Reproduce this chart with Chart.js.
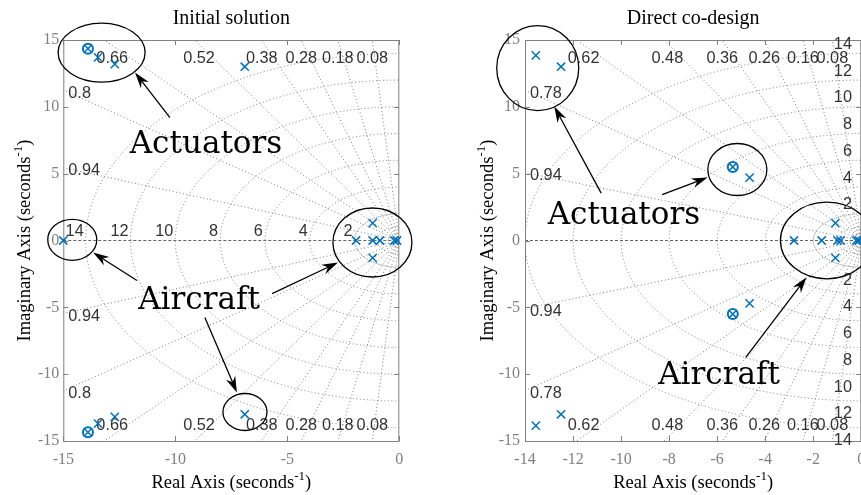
<!DOCTYPE html>
<html lang="en">
<head>
<meta charset="UTF-8">
<title>Pole-zero maps</title>
<script src="https://cdn.jsdelivr.net/npm/chart.js"></script>
<style>
  html, body { margin: 0; padding: 0; overflow: hidden; background: #fff; }
  body { position: relative; width: 861px; height: 495px; }
  canvas { position: absolute; top: 0; }
  #initMap { left: 0; }
  #codMap { left: 430px; }
</style>
</head>
<body>
<canvas id="initMap" width="430" height="495"></canvas>
<canvas id="codMap" width="480" height="495"></canvas>
<script>
// Initial solution: poles (x) and zeros (o)
const initPoleRe = [-13.9, -13.9, -13.45, -13.45, -12.7, -12.7, -6.9, -6.9, -15, -1.93, -1.19, -1.19, -1.19, -0.86, -0.22, -0.1];
const initPoleIm = [14.35, -14.35, 13.7, -13.7, 13.2, -13.2, 13.0, -13.0, 0, 0, 1.3, -1.3, 0, 0, 0, 0];
const initZeroRe = [-13.9, -13.9];
const initZeroIm = [14.35, -14.35];
const initZeta = [0.08, 0.18, 0.28, 0.38, 0.52, 0.66, 0.8, 0.94];
const initXTicks = [-15, -10, -5, 0];

// Direct co-design
const codPoleRe = [-13.55, -13.55, -12.5, -12.5, -5.35, -5.35, -4.65, -4.65, -2.8, -1.65, -1.08, -1.08, -0.99, -0.86, -0.2, -0.1];
const codPoleIm = [13.85, -13.85, 13.0, -13.0, 5.5, -5.5, 4.7, -4.7, 0, 0, 1.3, -1.3, 0, 0, 0, 0];
const codZeroRe = [-5.35, -5.35];
const codZeroIm = [5.5, -5.5];
const codZeta = [0.08, 0.16, 0.26, 0.36, 0.48, 0.62, 0.78, 0.94];
const codXTicks = [-14, -12, -10, -8, -6, -4, -2, 0];

const wnLabels = [2, 4, 6, 8, 10, 12, 14];
const wnInner = [0.5, 1];
const yTicks = [-15, -10, -5, 0, 5, 10, 15];

const BLUE = '#0072BD';
const SERIF = '"Liberation Serif", "Times New Roman", serif';
const SANS = '"Liberation Sans", Arial, sans-serif';

function toPts(re, im) {
  return re.map((v, i) => ({ x: v, y: im[i] }));
}

function drawArrow(ctx, x1, y1, x2, y2) {
  const a = Math.atan2(y2 - y1, x2 - x1), c = Math.cos(a), s = Math.sin(a);
  const L = 16, W = 5, N = 11;
  ctx.beginPath();
  ctx.moveTo(x1, y1);
  ctx.lineTo(x2 - N * c, y2 - N * s);
  ctx.stroke();
  ctx.beginPath();
  ctx.moveTo(x2, y2);
  ctx.lineTo(x2 - L * c + W * s, y2 - L * s - W * c);
  ctx.lineTo(x2 - N * c, y2 - N * s);
  ctx.lineTo(x2 - L * c - W * s, y2 - L * s + W * c);
  ctx.closePath();
  ctx.fill();
}

// text with a "-1" superscript, centred on cx
function unitText(ctx, main, cx, base) {
  ctx.font = '18.5px ' + SERIF;
  const w1 = ctx.measureText(main).width;
  ctx.font = '13px ' + SERIF;
  const w2 = ctx.measureText('-1').width;
  ctx.font = '18.5px ' + SERIF;
  const w3 = ctx.measureText(')').width;
  let x = cx - (w1 + w2 + w3) / 2;
  ctx.textAlign = 'left';
  ctx.fillText(main, x, base);
  ctx.font = '13px ' + SERIF;
  ctx.fillText('-1', x + w1, base - 8);
  ctx.font = '18.5px ' + SERIF;
  ctx.fillText(')', x + w1 + w2, base);
}

function sgrid(cfg) {
  return {
    id: 'sgrid',
    beforeDatasetsDraw(chart) {
      const { ctx, chartArea: a, scales: { x, y } } = chart;
      const ox = x.getPixelForValue(0), oy = y.getPixelForValue(0);
      const sx = x.getPixelForValue(1) - ox, sy = oy - y.getPixelForValue(1);
      ctx.save();
      ctx.beginPath();
      ctx.rect(a.left, a.top, a.right - a.left, a.bottom - a.top);
      ctx.clip();
      ctx.strokeStyle = '#7c7c7c';
      ctx.lineWidth = 1;
      ctx.setLineDash([1, 2.5]);
      cfg.zeta.forEach(z => {
        const w = Math.sqrt(1 - z * z);
        [1, -1].forEach(sg => {
          ctx.beginPath();
          ctx.moveTo(ox, oy);
          ctx.lineTo(x.getPixelForValue(-z * 60), y.getPixelForValue(sg * w * 60));
          ctx.stroke();
        });
      });
      wnLabels.concat(wnInner).forEach(wn => {
        ctx.setLineDash(wn === 2 ? [1, 1] : [1, 2.5]);
        ctx.beginPath();
        ctx.ellipse(ox, oy, wn * sx, wn * sy, 0, Math.PI / 2, Math.PI * 1.5);
        ctx.stroke();
      });
      ctx.setLineDash([3, 2]);
      ctx.strokeStyle = '#666';
      ctx.beginPath();
      ctx.moveTo(a.left, oy);
      ctx.lineTo(a.right, oy);
      ctx.stroke();
      ctx.restore();

      // box and inward ticks
      ctx.save();
      ctx.strokeStyle = '#808080';
      ctx.lineWidth = 1;
      ctx.strokeRect(a.left + 0.5, a.top + 0.5, a.right - a.left - 1, a.bottom - a.top);
      ctx.beginPath();
      cfg.xTicks.forEach(v => {
        const px = Math.round(x.getPixelForValue(v)) + 0.5;
        ctx.moveTo(px, a.bottom); ctx.lineTo(px, a.bottom - 5);
        ctx.moveTo(px, a.top); ctx.lineTo(px, a.top + 5);
      });
      yTicks.forEach(v => {
        const py = Math.round(y.getPixelForValue(v)) + 0.5;
        ctx.moveTo(a.left, py); ctx.lineTo(a.left + 5, py);
        ctx.moveTo(a.right, py); ctx.lineTo(a.right - 5, py);
      });
      ctx.stroke();

      // damping ratio labels
      ctx.fillStyle = '#333';
      ctx.font = '16.3px ' + SANS;
      ctx.textBaseline = 'alphabetic';
      const xMin = x.min, yMax = y.max;
      cfg.zeta.forEach(z => {
        const w = Math.sqrt(1 - z * z);
        const reTop = -z / w * yMax;
        if (reTop >= xMin) {
          const cx = x.getPixelForValue(reTop) + Math.max(0, 27 * (z - 0.36));
          ctx.textAlign = 'center';
          ctx.fillText(String(z), cx, a.top + 23);
          ctx.fillText(String(z), cx, a.bottom - 11);
        } else {
          const im = -xMin * w / z;
          ctx.textAlign = 'left';
          ctx.fillText(String(z), a.left + 5, y.getPixelForValue(im) + 7.5);
          ctx.fillText(String(z), a.left + 5, y.getPixelForValue(-im) + 7.5);
        }
      });
      // natural frequency labels
      wnLabels.forEach(wn => {
        ctx.textAlign = 'right';
        if (cfg.wnOnEdge) {
          const px = x.getPixelForValue(cfg.wnEdgeRe);
          ctx.fillText(String(wn), px, y.getPixelForValue(wn) - 4.5);
          ctx.fillText(String(wn), px, y.getPixelForValue(-wn) + 17.5);
        } else {
          ctx.fillText(String(wn), x.getPixelForValue(-wn) - 2, oy - 5);
        }
      });
      ctx.restore();
    },
    afterDraw(chart) {
      const { ctx, chartArea: a, scales: { x, y } } = chart;
      ctx.save();
      ctx.strokeStyle = '#000';
      ctx.fillStyle = '#000';
      ctx.lineWidth = 1.3;
      cfg.ellipses.forEach(e => {
        ctx.beginPath();
        ctx.ellipse(x.getPixelForValue(e.re), y.getPixelForValue(e.im), e.rx, e.ry, 0, 0, Math.PI * 2);
        ctx.stroke();
      });
      cfg.arrows.forEach(r => {
        drawArrow(ctx, x.getPixelForValue(r.from[0]), y.getPixelForValue(r.from[1]),
          x.getPixelForValue(r.to[0]), y.getPixelForValue(r.to[1]));
      });
      ctx.font = '31px "DejaVu Serif", serif';
      ctx.textAlign = 'center';
      ctx.textBaseline = 'alphabetic';
      cfg.texts.forEach(t => {
        ctx.fillText(t.text, x.getPixelForValue(t.re), y.getPixelForValue(t.im));
      });

      // title and axis labels
      const cx = (a.left + a.right) / 2;
      ctx.font = '20px ' + SERIF;
      ctx.fillText(cfg.title, cx, 24);
      unitText(ctx, 'Real Axis (seconds', cx, 488);
      ctx.translate(cfg.yLabelX, (a.top + a.bottom) / 2);
      ctx.rotate(-Math.PI / 2);
      unitText(ctx, 'Imaginary Axis (seconds', 0, 0);
      ctx.restore();
    }
  };
}

function makeMap(id, cfg) {
  const tickFont = { family: SERIF, size: 16 };
  return new Chart(document.getElementById(id), {
    type: 'scatter',
    data: {
      datasets: [
        {
          data: toPts(cfg.poleRe, cfg.poleIm), clip: false,
          pointStyle: 'crossRot', pointRadius: 5.8,
          pointBorderColor: BLUE, pointBorderWidth: 1.5, pointBackgroundColor: BLUE
        },
        {
          data: toPts(cfg.zeroRe, cfg.zeroIm), clip: false,
          pointStyle: 'circle', pointRadius: 5,
          pointBorderColor: BLUE, pointBorderWidth: 2, pointBackgroundColor: 'rgba(0,0,0,0)'
        }
      ]
    },
    options: {
      responsive: false,
      animation: false,
      events: [],
      layout: { padding: cfg.padding },
      plugins: { legend: { display: false }, tooltip: { enabled: false } },
      scales: {
        x: {
          type: 'linear', min: cfg.xMin, max: 0,
          afterBuildTicks: s => { s.ticks = cfg.xTicks.map(v => ({ value: v })); },
          afterFit: s => { s.height = 54; },
          grid: { display: false, drawTicks: false }, border: { display: false },
          ticks: { font: tickFont, color: '#808080', padding: 9, maxRotation: 0, autoSkip: false }
        },
        y: {
          type: 'linear', min: -15, max: 15,
          afterBuildTicks: s => { s.ticks = yTicks.map(v => ({ value: v })); },
          afterFit: s => { s.width = cfg.yWidth; },
          grid: { display: false, drawTicks: false }, border: { display: false },
          ticks: { font: tickFont, color: '#808080', padding: cfg.yPad, autoSkip: false }
        }
      }
    },
    plugins: [sgrid(cfg)]
  });
}

makeMap('initMap', {
  title: 'Initial solution',
  poleRe: initPoleRe, poleIm: initPoleIm, zeroRe: initZeroRe, zeroIm: initZeroIm,
  zeta: initZeta, xTicks: initXTicks, xMin: -15,
  padding: { left: 0, top: 40, right: 30.7, bottom: 0 },
  yWidth: 63.3, yPad: 4, yLabelX: 30,
  wnOnEdge: false,
  ellipses: [
    { re: -13.29, im: 14.06, rx: 43.5, ry: 29.5 },
    { re: -14.6, im: 0.05, rx: 24.5, ry: 20.5 },
    { re: -1.2, im: -0.15, rx: 39.5, ry: 34.5 },
    { re: -6.89, im: -12.83, rx: 22, ry: 18.5 }
  ],
  arrows: [
    { from: [-10.24, 9.2], to: [-11.8, 12.57] },
    { from: [-11.71, -2.99], to: [-13.67, -0.9] },
    { from: [-5.68, -3.97], to: [-2.74, -1.65] },
    { from: [-8.68, -5.76], to: [-7.25, -11.37] }
  ],
  texts: [
    { text: 'Actuators', re: -8.63, im: 6.58 },
    { text: 'Aircraft', re: -8.94, im: -5.09 }
  ]
});

makeMap('codMap', {
  title: 'Direct co-design',
  poleRe: codPoleRe, poleIm: codPoleIm, zeroRe: codZeroRe, zeroIm: codZeroIm,
  zeta: codZeta, xTicks: codXTicks, xMin: -14,
  padding: { left: 0, top: 40, right: 48.7, bottom: 0 },
  yWidth: 95, yPad: 5, yLabelX: 63,
  wnOnEdge: true, wnEdgeRe: -0.39,
  ellipses: [
    { re: -13.47, im: 12.9, rx: 41, ry: 42.5 },
    { re: -5.16, im: 5.31, rx: 29.5, ry: 26 },
    { re: -1.43, im: 0, rx: 46.5, ry: 38.3 }
  ],
  arrows: [
    { from: [-10.83, 3.54], to: [-12.78, 10.02] },
    { from: [-8.29, 3.44], to: [-6.4, 4.71] },
    { from: [-4.81, -8.75], to: [-2.28, -2.75] }
  ],
  texts: [
    { text: 'Actuators', re: -9.88, im: 1.27 },
    { text: 'Aircraft', re: -5.92, im: -10.7 }
  ]
});
</script>
</body>
</html>
